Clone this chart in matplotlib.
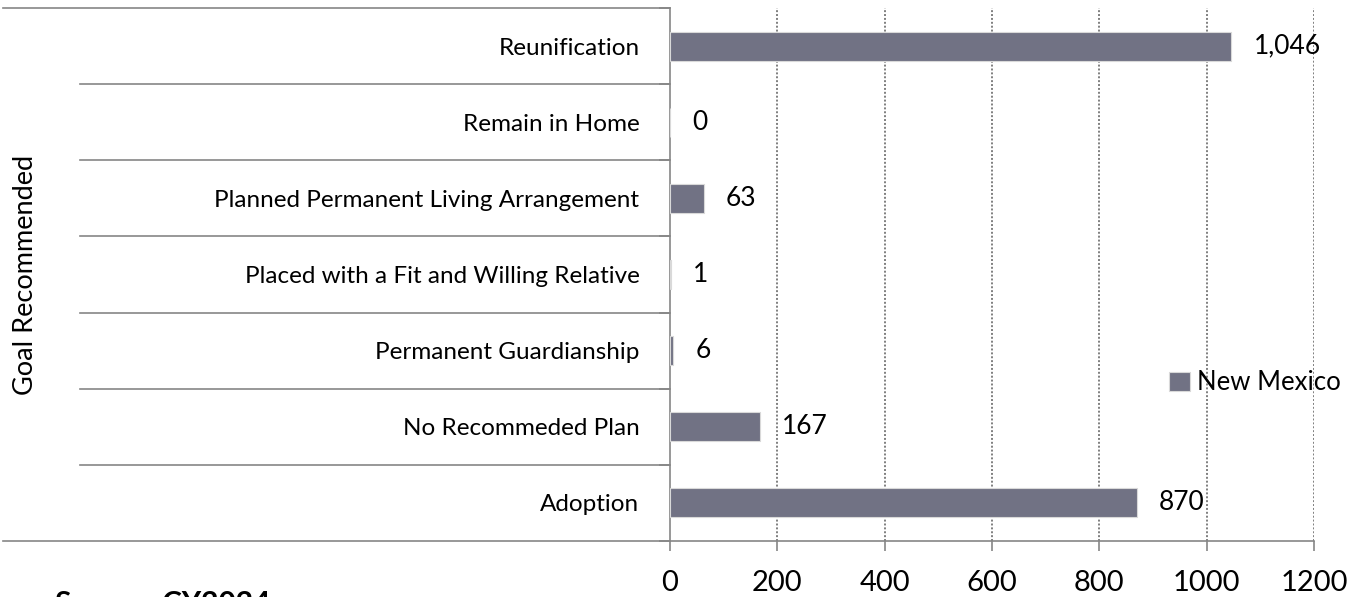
import matplotlib
matplotlib.use("Agg")
import matplotlib.pyplot as plt

# ── Data ──────────────────────────────────────────────────────
categories = [
    "Adoption",
    "No Recommeded Plan",
    "Permanent Guardianship",
    "Placed with a Fit and Willing Relative",
    "Planned Permanent Living Arrangement",
    "Remain in Home",
    "Reunification",
]
values = [870, 167, 6, 1, 63, 0, 1046]
series_name = "New Mexico"
x_ticks = [0, 200, 400, 600, 800, 1000, 1200]

BAR_COLOR = "#717284"
AXIS_COLOR = "#868686"
FONT = ["Lato", "DejaVu Sans"]

plt.rcParams["font.family"] = FONT

fig = plt.figure(figsize=(13.71, 5.97), dpi=100)
ax = fig.add_axes([670 / 1371, 1 - 541 / 597, 644 / 1371, 533 / 597])

ypos = list(range(len(categories)))
ax.barh(ypos, values, height=0.38, color=BAR_COLOR, edgecolor="#d9d9d9",
        linewidth=0.8, label=series_name, zorder=3)

for y, v in zip(ypos, values):
    ax.annotate(f"{v:,}", (v, y), xytext=(16, 0), textcoords="offset points",
                va="center", ha="left", fontsize=19, color="#000000")

ax.set_xlim(0, 1200)
ax.set_ylim(-0.5, len(categories) - 0.5)
ax.set_xticks(x_ticks)
ax.set_xticklabels([str(t) for t in x_ticks], fontsize=21)
ax.tick_params(axis="x", length=7, width=1.2, color=AXIS_COLOR, pad=14)

ax.set_yticks(ypos)
ax.set_yticklabels(categories, fontsize=17.5)
ax.set_yticks([y - 0.5 for y in range(len(categories) + 1)], minor=True)
ax.tick_params(axis="y", which="major", length=0, pad=22)
ax.tick_params(axis="y", which="minor", length=8, width=1.2, color=AXIS_COLOR)

for t in x_ticks[1:]:
    ax.axvline(t, color="#7f7f7f", linewidth=1.4, linestyle=(0, (1, 1)), zorder=1)

for s in ["top", "right"]:
    ax.spines[s].set_visible(False)
for s in ["left", "bottom"]:
    ax.spines[s].set_color(AXIS_COLOR)
    ax.spines[s].set_linewidth(1.2)

# category separators that run out to the left
ytr = ax.get_yaxis_transform()
x_sep = (80 - 670) / 644
x_far = (3 - 670) / 644
for k in range(1, len(categories)):
    ax.plot([x_sep, 0], [k - 0.5, k - 0.5], color=AXIS_COLOR, linewidth=1.2,
            transform=ytr, clip_on=False)
top = len(categories) - 0.5
ax.plot([x_far, 0], [top, top], color=AXIS_COLOR, linewidth=1.2,
        transform=ytr, clip_on=False)
ax.plot([x_far, 0], [-0.5, -0.5], color=AXIS_COLOR, linewidth=1.2,
        transform=ytr, clip_on=False)

fig.text(26 / 1371, 1 - 275 / 597, "Goal Recommended", rotation=90,
         ha="center", va="center", fontsize=19.5)

ax.legend(loc="center left", bbox_to_anchor=(1146 / 1371, 1 - 383 / 597),
          bbox_transform=fig.transFigure, frameon=False, fontsize=18.5,
          handlelength=0.8, handleheight=0.8, handletextpad=0.3)

fig.text(55 / 1371, 1 - 590 / 597, "Source: CY2024", fontsize=21.5,
         fontweight="bold", ha="left", va="top")

fig.savefig("out.png", dpi=100)
